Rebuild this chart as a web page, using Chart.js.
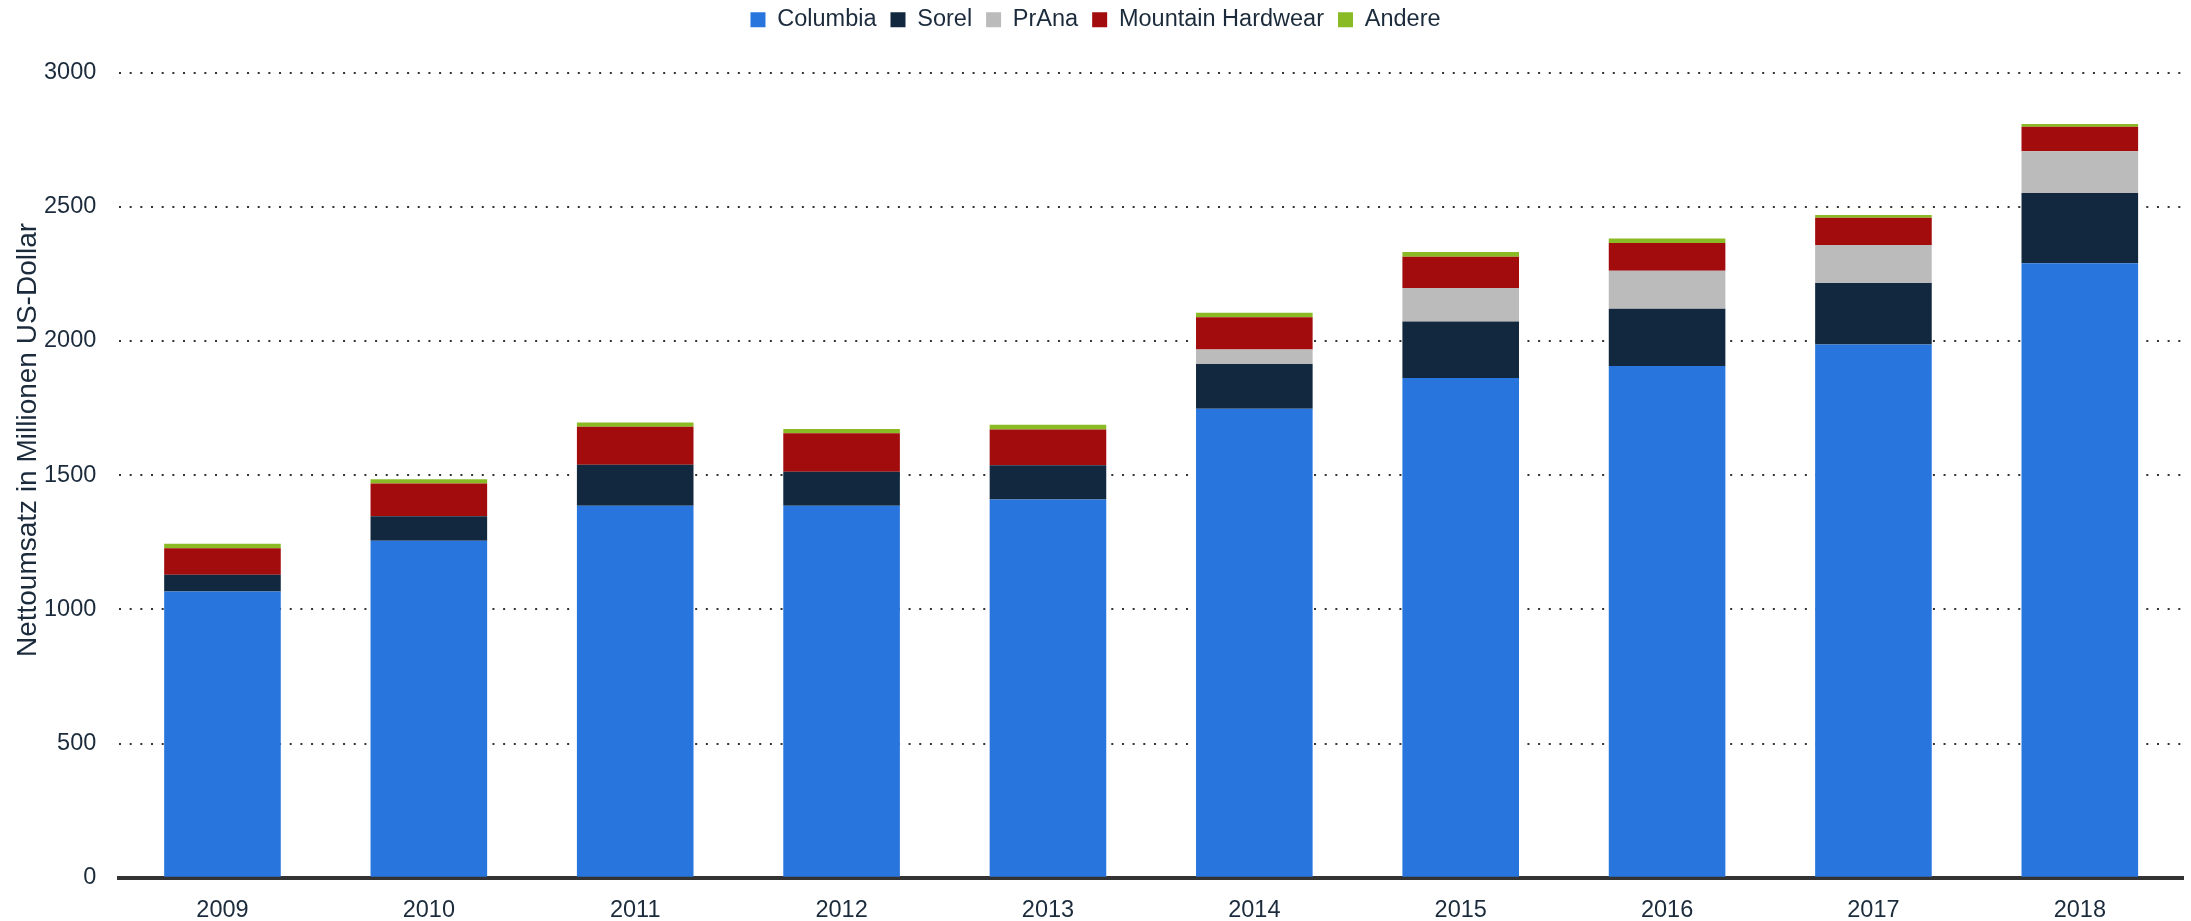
<!DOCTYPE html>
<html>
<head>
<meta charset="utf-8">
<title>Nettoumsatz Columbia Sportswear nach Marken</title>
<script src="https://cdn.jsdelivr.net/npm/chart.js@4.4.1/dist/chart.umd.min.js"></script>
<style>
  html, body { margin: 0; padding: 0; background: #ffffff; }
  #wrap { width: 2191px; height: 921px; position: relative; }
</style>
</head>
<body>
<div id="wrap"><canvas id="chart"></canvas></div>
<script>
// Values (million US$)
const years = ['2009', '2010', '2011', '2012', '2013', '2014', '2015', '2016', '2017', '2018'];
const columbia = [1067, 1256, 1386, 1386, 1409, 1747, 1862, 1907, 1987, 2289];
const sorel = [62, 91, 153, 127, 128, 167, 210, 213, 229, 262];
const prana = [null, null, null, null, null, 54, 125, 141, 141, 156];
const mountainHardwear = [99, 122, 141, 143, 133, 120, 117, 104, 102, 91];
const andere = [16, 16, 16, 16, 18, 17, 17, 17, 10, 10];
const yTicks = [0, 500, 1000, 1500, 2000, 2500, 3000];
const yTitle = 'Nettoumsatz in Millionen US-Dollar';

const TEXT_COLOR = '#1b2b3c';
const FONT = 'Arial, "Liberation Sans", sans-serif';

document.addEventListener('DOMContentLoaded', () => {
  const ctx = document.getElementById('chart').getContext('2d');

  function series(label, data, color) {
    return {
      label: label,
      data: data,
      backgroundColor: color,
      borderWidth: 0,
      categoryPercentage: 1,
      barPercentage: 0.565
    };
  }

  // extra room under the legend
  const legendGap = {
    id: 'legendGap',
    beforeInit(chart) {
      const fit = chart.legend.fit;
      chart.legend.fit = function () {
        fit.bind(chart.legend)();
        this.height += 31;
      };
    }
  };

  // y axis title sits a bit above the plot centre in the original
  const yAxisTitle = {
    id: 'yAxisTitle',
    afterDraw(chart) {
      const c = chart.ctx;
      c.save();
      c.translate(28, 440);
      c.rotate(-Math.PI / 2);
      c.font = '28px ' + FONT;
      c.fillStyle = TEXT_COLOR;
      c.textAlign = 'center';
      c.textBaseline = 'middle';
      c.fillText(yTitle, 0, 0);
      c.restore();
    }
  };

  new Chart(ctx, {
    type: 'bar',
    data: {
      labels: years,
      datasets: [
        series('Columbia', columbia, '#2876dd'),
        series('Sorel', sorel, '#12283f'),
        series('PrAna', prana, '#bbbbbb'),
        series('Mountain Hardwear', mountainHardwear, '#a30c0c'),
        series('Andere', andere, '#8abb24')
      ]
    },
    plugins: [legendGap, yAxisTitle],
    options: {
      responsive: true,
      maintainAspectRatio: false,
      animation: false,
      layout: { padding: { left: 8, right: 8, top: -6, bottom: 0 } },
      plugins: {
        legend: {
          position: 'top',
          labels: {
            color: TEXT_COLOR,
            font: { family: FONT, size: 23.5 },
            boxWidth: 15,
            boxHeight: 15,
            padding: 14
          }
        },
        tooltip: { enabled: false }
      },
      scales: {
        x: {
          stacked: true,
          grid: { display: false, drawTicks: false },
          border: { display: true, color: '#333333', width: 4 },
          ticks: {
            color: TEXT_COLOR,
            font: { family: FONT, size: 23.5 },
            padding: 19
          },
          afterFit: (scale) => { scale.height -= 23; }
        },
        y: {
          stacked: true,
          min: 0,
          max: 3000,
          afterBuildTicks: (axis) => { axis.ticks = yTicks.map(v => ({ value: v })); },
          afterFit: (scale) => { scale.width += 13; },
          grid: { color: '#333333', lineWidth: 2, drawTicks: false },
          border: { display: false, dash: [2, 8.67] },
          ticks: {
            color: TEXT_COLOR,
            font: { family: FONT, size: 23.5 },
            padding: 23,
            callback: (value) => String(value)
          }
        }
      }
    }
  });
});
</script>
</body>
</html>
